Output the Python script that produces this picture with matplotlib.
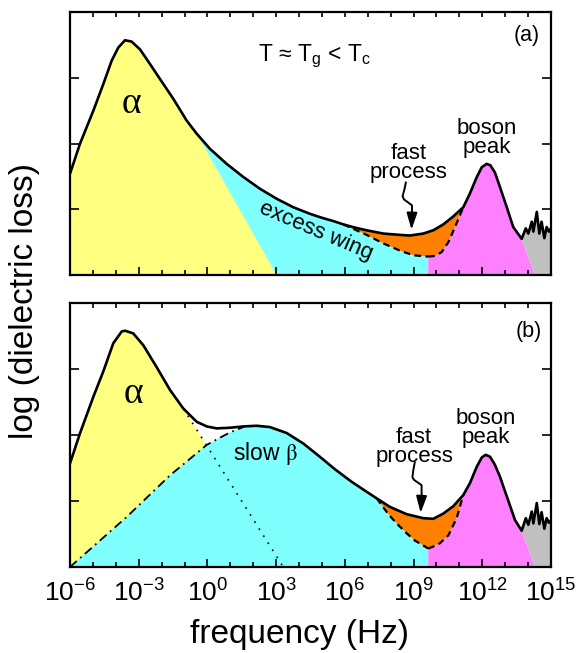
import matplotlib
matplotlib.use('Agg')
import matplotlib.pyplot as plt
from matplotlib.ticker import FixedLocator, FixedFormatter
import numpy as np

plt.rcParams['font.family'] = ['Liberation Sans', 'DejaVu Sans']

# everything below is log10(frequency/Hz) vs log(loss)

# ---- panel (a): T ~ Tg < Tc ----
a_total_lf = [-6.0, -5.56, -4.98, -4.55, -4.18, -3.89, -3.60, -3.31, -2.94, -2.51,
              -2.07, -1.49, -0.91, -0.47, 0.11, 0.84, 1.57, 2.30, 3.02, 3.75,
              4.48, 5.00, 5.50, 5.93, 6.45, 6.95, 7.68, 8.41, 8.84, 9.42,
              9.86, 10.30, 10.73, 11.17, 11.46, 11.76, 11.98, 12.19, 12.35, 12.55,
              12.77, 13.07, 13.35, 13.72, 13.90, 14.01, 14.16, 14.23, 14.38, 14.49,
              14.59, 14.71, 14.81, 14.91, 15.0]
a_total_ll = [1.54, 2.00, 2.50, 2.90, 3.26, 3.46, 3.57, 3.55, 3.43, 3.21,
              2.98, 2.68, 2.35, 2.15, 1.92, 1.69, 1.49, 1.31, 1.16, 1.03,
              0.93, 0.87, 0.82, 0.77, 0.72, 0.68, 0.63, 0.61, 0.60, 0.63,
              0.68, 0.77, 0.89, 1.03, 1.24, 1.49, 1.64, 1.69, 1.67, 1.56,
              1.34, 1.03, 0.73, 0.55, 0.71, 0.63, 0.81, 0.66, 0.96, 0.63,
              0.81, 0.56, 0.73, 0.66, 0.71]
a_alpha_tail_lf = [-0.47, 3.02]
a_alpha_tail_ll = [2.15, 0.0]
a_wing_lf = [5.93, 6.95, 7.68, 8.41, 8.99, 9.64]
a_wing_ll = [0.77, 0.61, 0.48, 0.37, 0.30, 0.28]
a_boson_lf = [9.64, 9.94, 10.23, 10.52, 10.81, 11.17]
a_boson_ll = [0.28, 0.29, 0.35, 0.50, 0.73, 1.03]
a_boson_edge_lf = [13.72, 14.30]
a_boson_edge_ll = [0.55, 0.0]

# ---- panel (b) ----
b_total_lf = [-6.0, -5.56, -4.98, -4.55, -4.11, -3.74, -3.60, -3.24, -2.80, -2.22,
              -1.63, -1.05, -0.47, -0.03, 0.40, 0.99, 1.57, 2.15, 2.73, 3.46,
              4.19, 4.91, 5.57, 6.30, 6.95, 7.39, 7.97, 8.70, 9.42, 9.86,
              10.30, 10.73, 11.17, 11.46, 11.76, 11.98, 12.15, 12.34, 12.55, 12.77,
              13.07, 13.43, 13.72, 13.90, 14.01, 14.16, 14.23, 14.38, 14.49, 14.59,
              14.71, 14.81, 14.91, 15.0]
b_total_ll = [1.57, 2.03, 2.58, 2.96, 3.39, 3.57, 3.58, 3.54, 3.36, 3.03,
              2.68, 2.40, 2.20, 2.13, 2.10, 2.11, 2.13, 2.14, 2.12, 2.03,
              1.87, 1.67, 1.48, 1.29, 1.14, 1.04, 0.91, 0.80, 0.74, 0.73,
              0.81, 0.92, 1.09, 1.27, 1.52, 1.66, 1.70, 1.67, 1.55, 1.37,
              1.07, 0.71, 0.55, 0.74, 0.64, 0.84, 0.66, 0.97, 0.65, 0.83,
              0.58, 0.74, 0.67, 0.71]
b_alpha_tail_lf = [-1.05, 3.31]
b_alpha_tail_ll = [2.40, 0.0]
b_beta_lf = [-6.0, -3.52, -1.63, -0.03, 0.55, 0.99, 1.57]
b_beta_ll = [0.0, 0.76, 1.39, 1.85, 1.96, 2.04, 2.12]
b_beta_tail_lf = [7.39, 7.90, 8.26, 8.70, 9.06, 9.50, 9.64]
b_beta_tail_ll = [1.04, 0.80, 0.66, 0.51, 0.40, 0.31, 0.28]
b_boson_lf = [9.64, 9.86, 10.15, 10.52, 10.88, 11.17]
b_boson_ll = [0.28, 0.31, 0.36, 0.48, 0.74, 1.09]
b_boson_edge_lf = [13.72, 14.30]
b_boson_edge_ll = [0.55, 0.0]

xtick_exp = [-6, -3, 0, 3, 6, 9, 12, 15]
ytick_vals = [1, 2, 3]

YELLOW = '#ffff80'
CYAN = '#80ffff'
ORANGE = '#ff8000'
MAGENTA = '#ff80ff'
GREY = '#c0c0c0'


def seg(lf, ll, lo, hi):
    lf = np.asarray(lf)
    ll = np.asarray(ll)
    m = (lf >= lo - 1e-9) & (lf <= hi + 1e-9)
    return list(lf[m]), list(ll[m])


def poly(ax, xs, ys, color):
    ax.fill(10.0 ** np.asarray(xs), ys, color=color, lw=0, zorder=1)


def line(ax, xs, ys, **kw):
    ax.plot(10.0 ** np.asarray(xs), ys, color='k', solid_capstyle='butt', **kw)


def squiggle(ax, xs, ys, tip):
    line(ax, xs, ys, lw=1.4, zorder=5, solid_joinstyle='round')
    ax.annotate('', xy=(10.0 ** tip[0], tip[1]), xytext=(10.0 ** xs[-1], ys[-1]),
                arrowprops=dict(arrowstyle='-|>,head_length=1.0,head_width=0.32',
                                color='k', lw=1.4, shrinkA=0, shrinkB=0,
                                mutation_scale=10), zorder=5)


def setup(ax, labels):
    ax.set_xscale('log')
    ax.set_xlim(1e-6, 1e15)
    ax.set_ylim(0, 4)
    ax.xaxis.set_major_locator(FixedLocator([10.0 ** e for e in xtick_exp]))
    ax.xaxis.set_minor_locator(FixedLocator([10.0 ** e for e in range(-6, 16)]))
    ax.xaxis.set_major_formatter(FixedFormatter(
        [r'$\mathregular{10^{%d}}$' % e for e in xtick_exp]))
    ax.xaxis.set_minor_formatter(FixedFormatter([]))
    ax.yaxis.set_major_locator(FixedLocator(ytick_vals))
    ax.set_yticklabels([])
    ax.tick_params(axis='x', which='major', direction='in', top=True, bottom=True,
                   length=6, width=1.2, labelsize=19, pad=9, labelbottom=labels)
    ax.tick_params(axis='x', which='minor', direction='in', top=True, bottom=True,
                   length=3.5, width=1.2)
    ax.tick_params(axis='y', which='major', direction='in', left=True, right=True,
                   length=6.5, width=1.2)
    for t in ax.xaxis.get_major_ticks():
        t.tick2line.set_markersize(3.5)
    for s in ax.spines.values():
        s.set_linewidth(1.6)
        s.set_zorder(10)


fig = plt.figure(figsize=(5.76, 6.53), dpi=100)
axa = fig.add_axes([70 / 576, 1 - 275 / 653, 481 / 576, 263 / 653])
axb = fig.add_axes([70 / 576, 1 - 567 / 653, 481 / 576, 264 / 653])

# ---------------- panel (a) ----------------
ax = axa
x1, y1 = seg(a_total_lf, a_total_ll, -6, a_wing_lf[0])
poly(ax, x1 + a_wing_lf[1:] + [a_wing_lf[-1], -6], y1 + a_wing_ll[1:] + [0, 0], CYAN)
x1, y1 = seg(a_total_lf, a_total_ll, -6, a_alpha_tail_lf[0])
poly(ax, x1 + a_alpha_tail_lf[1:] + [-6], y1 + a_alpha_tail_ll[1:] + [0], YELLOW)
x1, y1 = seg(a_total_lf, a_total_ll, a_wing_lf[0], a_boson_lf[-1])
poly(ax, x1 + a_boson_lf[::-1][1:] + a_wing_lf[::-1][1:],
     y1 + a_boson_ll[::-1][1:] + a_wing_ll[::-1][1:], ORANGE)
x1, y1 = seg(a_total_lf, a_total_ll, a_boson_lf[-1], a_boson_edge_lf[0])
poly(ax, [a_boson_lf[0]] + a_boson_lf + x1[1:] + a_boson_edge_lf[1:],
     [0] + a_boson_ll + y1[1:] + a_boson_edge_ll[1:], MAGENTA)
x1, y1 = seg(a_total_lf, a_total_ll, a_boson_edge_lf[0], 15)
poly(ax, x1 + [15] + a_boson_edge_lf[1:], y1 + [0] + a_boson_edge_ll[1:], GREY)

line(ax, a_wing_lf, a_wing_ll, lw=1.6, ls=(0, (3, 2)), zorder=3)
line(ax, a_boson_lf, a_boson_ll, lw=1.6, ls=(0, (3, 2)), zorder=3)
line(ax, a_total_lf, a_total_ll, lw=1.9, zorder=4)

ax.text(10.0 ** -3.31, 2.61, 'α', family='Liberation Serif', fontsize=27,
        ha='center', va='center')
ax.text(10.0 ** 4.65, 3.33, r'T ≈ T$_\mathregular{g}$ < T$_\mathregular{c}$',
        fontsize=16.5, ha='center', va='center')
ax.text(10.0 ** 13.94, 3.64, '(a)', fontsize=15.5, ha='center', va='center')
ax.text(10.0 ** 4.74, 0.67, 'excess wing', fontsize=16, rotation=-23,
        rotation_mode='anchor', ha='center', va='center')
ax.text(10.0 ** 8.80, 1.70, 'fast\nprocess', fontsize=16, ha='center',
        va='center', linespacing=0.88)
ax.text(10.0 ** 12.19, 2.09, 'boson\npeak', fontsize=16, ha='center',
        va='center', linespacing=0.88)
squiggle(ax, [8.67, 8.60, 8.52, 8.58, 8.93, 8.93],
         [1.42, 1.30, 1.20, 1.15, 1.06, 0.94], (8.91, 0.69))
setup(ax, False)

# ---------------- panel (b) ----------------
ax = axb
x1, y1 = seg(b_total_lf, b_total_ll, -6, b_alpha_tail_lf[0])
poly(ax, x1 + b_alpha_tail_lf[1:] + [-6], y1 + b_alpha_tail_ll[1:] + [0], YELLOW)
x1, y1 = seg(b_total_lf, b_total_ll, b_beta_lf[-1], b_beta_tail_lf[0])
poly(ax, b_beta_lf + x1[1:] + b_beta_tail_lf[1:] + [b_beta_tail_lf[-1]],
     b_beta_ll + y1[1:] + b_beta_tail_ll[1:] + [0], CYAN)
x1, y1 = seg(b_total_lf, b_total_ll, b_beta_tail_lf[0], b_boson_lf[-1])
poly(ax, x1 + b_boson_lf[::-1][1:] + b_beta_tail_lf[::-1][1:],
     y1 + b_boson_ll[::-1][1:] + b_beta_tail_ll[::-1][1:], ORANGE)
x1, y1 = seg(b_total_lf, b_total_ll, b_boson_lf[-1], b_boson_edge_lf[0])
poly(ax, [b_boson_lf[0]] + b_boson_lf + x1[1:] + b_boson_edge_lf[1:],
     [0] + b_boson_ll + y1[1:] + b_boson_edge_ll[1:], MAGENTA)
x1, y1 = seg(b_total_lf, b_total_ll, b_boson_edge_lf[0], 15)
poly(ax, x1 + [15] + b_boson_edge_lf[1:], y1 + [0] + b_boson_edge_ll[1:], GREY)

line(ax, b_alpha_tail_lf, b_alpha_tail_ll, lw=1.2, ls=(0, (1, 4)), zorder=3)
line(ax, b_beta_lf, b_beta_ll, lw=1.3, ls=(0, (5, 2.5, 1, 2.5)), zorder=3)
line(ax, b_beta_tail_lf, b_beta_tail_ll, lw=1.6, ls=(0, (3, 2)), zorder=3)
line(ax, b_boson_lf, b_boson_ll, lw=1.6, ls=(0, (3, 2)), zorder=3)
line(ax, b_total_lf, b_total_ll, lw=1.9, zorder=4)

ax.text(10.0 ** -3.24, 2.63, 'α', family='Liberation Serif', fontsize=27,
        ha='center', va='center')
ax.text(10.0 ** 2.55, 1.72, r'slow $\mathrm{\beta}$', fontsize=16.5,
        math_fontfamily='stix', ha='center', va='center')
ax.text(10.0 ** 14.01, 3.57, '(b)', fontsize=15.5, ha='center', va='center')
ax.text(10.0 ** 9.02, 1.82, 'fast\nprocess', fontsize=16, ha='center',
        va='center', linespacing=0.88)
ax.text(10.0 ** 12.15, 2.10, 'boson\npeak', fontsize=16, ha='center',
        va='center', linespacing=0.88)
squiggle(ax, [9.06, 8.99, 8.95, 9.02, 9.35, 9.35],
         [1.60, 1.47, 1.36, 1.32, 1.24, 1.09], (9.31, 0.82))
setup(ax, True)

ax.set_xlabel('frequency (Hz)', fontsize=24, va='top')
ax.xaxis.set_label_coords((300 - 70) / 481, (567 - 619) / 264)
fig.text(25 / 576, 1 - 301 / 653, 'log (dielectric loss)', rotation=90,
         fontsize=24, ha='center', va='center')

fig.savefig('out.png', dpi=100)
